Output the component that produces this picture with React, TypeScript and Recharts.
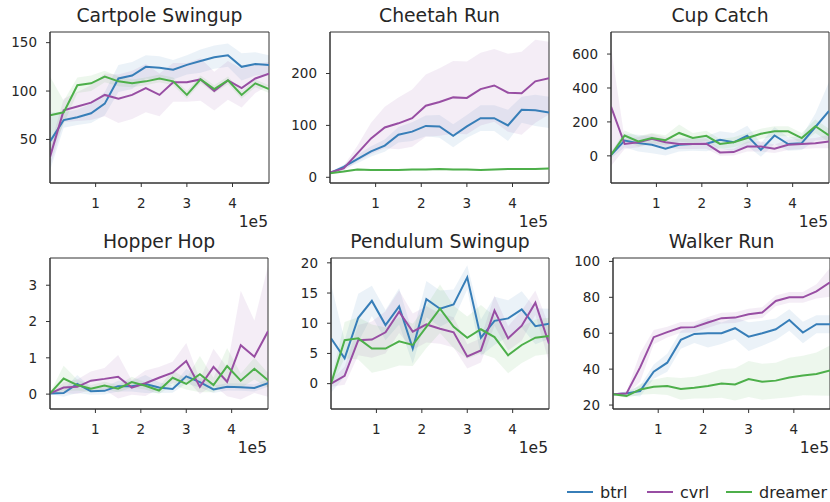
import { ComposedChart, Line, Area, XAxis, YAxis, ReferenceArea } from 'recharts'

const steps = [0, 30000, 60000, 90000, 120000, 150000, 180000, 210000, 240000, 270000, 300000, 330000, 360000, 390000, 420000, 450000, 480000]
const xTicks = [100000, 200000, 300000, 400000]

// cartpole swingup
const cartBtrl = [48, 70, 73, 77, 87, 113, 116, 125, 124, 122, 127, 131, 135, 137, 125, 128, 127]
const cartBtrlSd = [30, 8, 8, 10, 12, 14, 14, 12, 12, 10, 10, 12, 12, 12, 14, 12, 10]
const cartCvrl = [32, 80, 84, 88, 96, 92, 96, 103, 96, 109, 109, 112, 100, 111, 103, 113, 118]
const cartCvrlSd = [10, 12, 15, 18, 22, 25, 25, 25, 22, 20, 20, 22, 20, 20, 20, 15, 12]
const cartDreamer = [75, 78, 106, 108, 115, 110, 108, 110, 113, 110, 96, 112, 102, 111, 96, 108, 102]
const cartDreamerSd = [40, 12, 8, 8, 6, 5, 4, 4, 4, 4, 4, 4, 4, 4, 4, 4, 4]

// cheetah run
const cheeBtrl = [8, 20, 35, 50, 61, 82, 88, 99, 98, 80, 98, 114, 114, 100, 130, 129, 125]
const cheeBtrlSd = [2, 4, 8, 10, 12, 15, 18, 20, 22, 22, 22, 25, 25, 30, 25, 30, 30]
const cheeCvrl = [9, 17, 46, 75, 96, 104, 114, 138, 145, 154, 153, 170, 177, 163, 162, 185, 191]
const cheeCvrlSd = [2, 5, 15, 30, 40, 50, 55, 60, 65, 70, 70, 70, 70, 75, 80, 80, 70]
const cheeDreamer = [8, 11, 15, 14, 14, 14, 15, 15, 16, 15, 15, 14, 15, 16, 16, 16, 17]
const cheeDreamerSd = [1, 2, 2, 2, 2, 2, 2, 2, 2, 2, 2, 2, 2, 2, 2, 2, 2]

// cup catch
const cupBtrl = [5, 90, 75, 65, 42, 65, 70, 72, 95, 80, 118, 35, 120, 70, 75, 170, 265]
const cupBtrlSd = [20, 40, 50, 50, 40, 40, 40, 45, 50, 55, 60, 40, 50, 40, 40, 80, 170]
const cupCvrl = [290, 70, 80, 100, 80, 70, 70, 72, 20, 22, 55, 55, 42, 65, 70, 75, 85]
const cupCvrlSd = [350, 30, 30, 30, 30, 30, 30, 30, 20, 20, 30, 30, 25, 30, 30, 30, 40]
const cupDreamer = [5, 120, 85, 105, 92, 135, 105, 118, 70, 80, 105, 130, 145, 145, 105, 175, 120]
const cupDreamerSd = [10, 30, 30, 30, 30, 50, 30, 30, 30, 30, 30, 30, 30, 30, 30, 40, 40]

// hopper hop
const hopBtrl = [0.02, 0.03, 0.28, 0.08, 0.09, 0.22, 0.22, 0.28, 0.18, 0.14, 0.49, 0.33, 0.13, 0.2, 0.19, 0.17, 0.3]
const hopBtrlSd = [0.02, 0.1, 0.25, 0.1, 0.1, 0.15, 0.15, 0.25, 0.15, 0.1, 0.2, 0.15, 0.1, 0.1, 0.1, 0.1, 0.1]
const hopCvrl = [0.02, 0.18, 0.2, 0.37, 0.42, 0.48, 0.18, 0.3, 0.45, 0.59, 0.91, 0.2, 0.75, 0.34, 1.35, 1.03, 1.73]
const hopCvrlSd = [0.02, 0.15, 0.2, 0.25, 0.3, 0.6, 0.2, 0.35, 0.3, 0.3, 0.5, 0.2, 0.5, 0.4, 1.5, 1.0, 1.8]
const hopDreamer = [0.02, 0.43, 0.25, 0.15, 0.24, 0.15, 0.33, 0.23, 0.1, 0.45, 0.28, 0.55, 0.25, 0.77, 0.37, 0.7, 0.38]
const hopDreamerSd = [0.02, 0.35, 0.15, 0.1, 0.1, 0.1, 0.15, 0.1, 0.1, 0.2, 0.15, 0.5, 0.2, 0.5, 0.2, 0.3, 0.2]

// pendulum swingup
const penBtrl = [7.5, 4.2, 10.9, 13.7, 9.7, 12.8, 5.8, 14, 12.4, 13.1, 17.6, 7.6, 10.4, 10.8, 12.3, 9.5, 9.9]
const penBtrlSd = [9, 3, 4, 2.5, 2.5, 3, 2.5, 3, 3, 2.5, 2, 3, 4, 3, 3, 3, 2.5]
const penCvrl = [0, 1.3, 7.2, 7.3, 8.5, 11.9, 8.6, 9.8, 9.1, 8.5, 4.5, 5.5, 12.1, 7.5, 9.6, 13.4, 6.6]
const penCvrlSd = [0.5, 1.5, 2.5, 3, 3.5, 3.5, 3, 3, 2.5, 2.5, 2, 2, 2.5, 2, 2.5, 2, 3]
const penDreamer = [0, 7.2, 7.5, 5.8, 5.8, 7.0, 6.4, 9.4, 12.4, 9.4, 7.6, 9.0, 7.7, 4.7, 6.4, 7.6, 7.9]
const penDreamerSd = [0.5, 3, 3.5, 4, 3.5, 4, 3.5, 3.5, 4, 3.5, 3.5, 4, 3.5, 3, 3, 3, 3]

// walker run
const walkBtrl = [26, 26.5, 27.8, 38.6, 43.6, 56.3, 59.6, 60, 60, 62.8, 58.1, 60, 62.2, 67.4, 60.4, 65, 65]
const walkBtrlSd = [0.5, 1, 3, 4, 5, 5, 5, 8, 6, 6, 8, 7, 6, 6, 6, 5, 5]
const walkCvrl = [26, 26.5, 41, 57.8, 60.6, 63.2, 63.4, 66, 68.4, 68.7, 70.6, 71.5, 78, 80, 80, 83.3, 88.3]
const walkCvrlSd = [0.5, 1, 8, 4, 3, 3, 3, 3, 3, 3, 3, 3, 3, 3, 3, 4, 8]
const walkDreamer = [26, 25, 28.7, 30.2, 30.6, 29, 29.7, 30.6, 32, 31.5, 34.5, 33, 33.6, 35.3, 36.4, 37.3, 39.2]
const walkDreamerSd = [0.5, 1, 3, 4, 5, 6, 6, 7, 8, 9, 10, 10, 10, 11, 11, 12, 14]

const COLORS = { btrl: '#377eb8', cvrl: '#984ea3', dreamer: '#4daf4a' }
const FONT = '"DejaVu Sans", sans-serif'
const TEXT = '#262626'

function rows(b: number[], bs: number[], c: number[], cs: number[], d: number[], ds: number[]) {
  return steps.map((step, i) => ({
    step,
    btrl: b[i],
    btrlBand: [b[i] - bs[i], b[i] + bs[i]],
    cvrl: c[i],
    cvrlBand: [c[i] - cs[i], c[i] + cs[i]],
    dreamer: d[i],
    dreamerBand: [d[i] - ds[i], d[i] + ds[i]],
  }))
}

const panels = [
  { title: 'Cartpole Swingup', data: rows(cartBtrl, cartBtrlSd, cartCvrl, cartCvrlSd, cartDreamer, cartDreamerSd), domain: [5, 161], ticks: [50, 100, 150], box: { l: 50, r: 269, t: 32, b: 183 } },
  { title: 'Cheetah Run', data: rows(cheeBtrl, cheeBtrlSd, cheeCvrl, cheeCvrlSd, cheeDreamer, cheeDreamerSd), domain: [-11, 280], ticks: [0, 100, 200], box: { l: 330, r: 549, t: 32, b: 183 } },
  { title: 'Cup Catch', data: rows(cupBtrl, cupBtrlSd, cupCvrl, cupCvrlSd, cupDreamer, cupDreamerSd), domain: [-160, 730], ticks: [0, 200, 400, 600], box: { l: 611, r: 829, t: 32, b: 183 } },
  { title: 'Hopper Hop', data: rows(hopBtrl, hopBtrlSd, hopCvrl, hopCvrlSd, hopDreamer, hopDreamerSd), domain: [-0.41, 3.75], ticks: [0, 1, 2, 3], box: { l: 50, r: 268, t: 258, b: 409 } },
  { title: 'Pendulum Swingup', data: rows(penBtrl, penBtrlSd, penCvrl, penCvrlSd, penDreamer, penDreamerSd), domain: [-4.2, 20.8], ticks: [0, 5, 10, 15, 20], box: { l: 331, r: 549, t: 258, b: 409 } },
  { title: 'Walker Run', data: rows(walkBtrl, walkBtrlSd, walkCvrl, walkCvrlSd, walkDreamer, walkDreamerSd), domain: [17.8, 101.9], ticks: [20, 40, 60, 80, 100], box: { l: 613, r: 830, t: 258, b: 409 } },
]

const YW = 50
const XH = 40
const MT = 10
const MR = 10
const series = ['btrl', 'cvrl', 'dreamer'] as const

function Panel({ p }: { p: (typeof panels)[number] }) {
  const { box } = p
  const tick = { fill: TEXT, fontSize: 13.5, fontFamily: FONT }
  return (
    <div style={{ position: 'absolute', left: box.l - YW, top: box.t - MT }}>
      <ComposedChart
        width={box.r - box.l + YW + MR}
        height={box.b - box.t + MT + XH}
        data={p.data}
        margin={{ top: MT, right: MR, bottom: 0, left: 0 }}
      >
        <XAxis
          dataKey="step"
          type="number"
          domain={[0, 480000]}
          ticks={xTicks}
          interval={0}
          allowDataOverflow
          tickFormatter={(v: number) => String(v / 1e5)}
          height={XH}
          tickSize={4}
          tickMargin={11}
          stroke="#333"
          tick={tick}
        />
        <YAxis
          type="number"
          domain={p.domain}
          ticks={p.ticks}
          interval={0}
          allowDataOverflow
          width={YW}
          tickSize={4}
          tickMargin={9}
          stroke="#333"
          tick={tick}
        />
        {series.map((s) => (
          <Area
            key={s + 'band'}
            dataKey={s + 'Band'}
            type="linear"
            stroke="none"
            fill={COLORS[s]}
            fillOpacity={0.1}
            dot={false}
            activeDot={false}
            isAnimationActive={false}
          />
        ))}
        {series.map((s) => (
          <Line
            key={s}
            dataKey={s}
            type="linear"
            stroke={COLORS[s]}
            strokeWidth={2}
            dot={false}
            activeDot={false}
            isAnimationActive={false}
          />
        ))}
        <ReferenceArea x1={0} x2={480000} y1={p.domain[0]} y2={p.domain[1]} fill="none" stroke="#333" strokeWidth={1} />
      </ComposedChart>
    </div>
  )
}

export default function App() {
  return (
    <div style={{ position: 'absolute', left: 0, top: 0, width: 830, height: 502, overflow: 'hidden', background: '#fff', fontFamily: FONT }}>
      {panels.map((p) => (
        <Panel key={p.title} p={p} />
      ))}
      <svg width={830} height={502} style={{ position: 'absolute', left: 0, top: 0, pointerEvents: 'none' }}>
        {panels.map((p) => (
          <g key={p.title}>
            <text x={(p.box.l + p.box.r) / 2} y={p.box.t - 10.5} textAnchor="middle" fontSize={18.8} fill={TEXT} fontFamily={FONT}>
              {p.title}
            </text>
            <text x={p.box.r - 1} y={p.box.b + 43.5} textAnchor="end" fontSize={15.5} fill={TEXT} fontFamily={FONT}>
              1e5
            </text>
          </g>
        ))}
        {series.map((s, i) => {
          const x0 = [567, 647, 726][i]
          return (
            <g key={s}>
              <line x1={x0} x2={x0 + 26} y1={492} y2={492} stroke={COLORS[s]} strokeWidth={2} />
              <text x={x0 + 33} y={497.5} fontSize={16} fill={TEXT} fontFamily={FONT}>
                {s}
              </text>
            </g>
          )
        })}
      </svg>
    </div>
  )
}
